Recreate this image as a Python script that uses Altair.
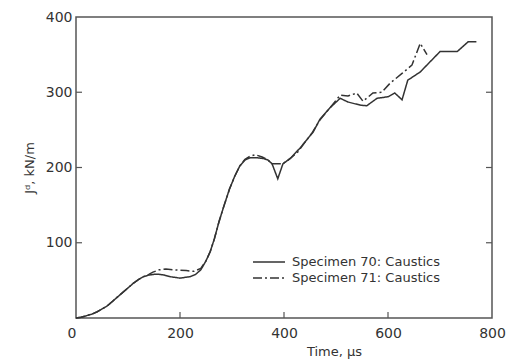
import altair as alt
import pandas as pd

# Specimen 70 (solid)
t70 = [0, 10, 20, 30, 40, 50, 60, 70, 80, 90, 100, 110, 120, 130, 140, 150, 160, 170, 180, 190,
       200, 210, 220, 230, 240, 250, 258, 266, 275, 285, 295, 305, 315, 325, 335, 348, 360, 369,
       377, 388, 398, 412, 431, 444, 456, 469, 488, 508, 523, 546, 559, 579, 600, 613, 627, 638,
       662, 700, 733, 754, 770]
j70 = [0, 1, 3, 5, 8, 12, 16, 22, 28, 34, 40, 46, 51, 55, 57, 58, 58, 57, 55, 54,
       53, 54, 55, 58, 64, 76, 88, 105, 128, 150, 171, 188, 202, 210, 213, 213, 212, 210,
       205, 185, 205, 212, 226, 237, 247, 264, 279, 292, 287, 283, 282, 292, 294, 299, 290, 316,
       327, 354, 354, 367, 367]

# Specimen 71 (dash-dot)
t71 = [0, 10, 20, 30, 40, 50, 60, 70, 80, 90, 100, 110, 120, 130, 140, 148, 160, 173, 190, 212,
       227, 240, 250, 258, 266, 275, 285, 295, 305, 315, 325, 335, 345, 358, 369, 377, 398, 412,
       427, 444, 454, 469, 488, 508, 523, 540, 552, 571, 588, 604, 627, 646, 662, 675]
j71 = [0, 1, 3, 5, 8, 12, 16, 22, 28, 34, 40, 46, 51, 55, 58, 61, 64, 65, 64, 63,
       62, 66, 76, 88, 105, 128, 150, 171, 188, 202, 211, 215, 217, 214, 210, 205, 205, 212,
       221, 237, 246, 263, 279, 296, 295, 299, 288, 299, 300, 312, 325, 336, 365, 350]

series = ["Specimen 70: Caustics", "Specimen 71: Caustics"]
dashes = [[1, 0], [9, 3, 2, 3]]
xticks = [200, 400, 600]
yticks = [100, 200, 300]

W, H = 416, 301
ink = "#333333"
font = "DejaVu Sans"

df = pd.concat([
    pd.DataFrame({"t": t70, "J": j70, "s": series[0], "o": range(len(t70))}),
    pd.DataFrame({"t": t71, "J": j71, "s": series[1], "o": range(len(t71))}),
])

xscale = alt.Scale(domain=[0, 800], nice=False)
yscale = alt.Scale(domain=[0, 400], nice=False)

lines = alt.Chart(df).mark_line(strokeWidth=1.5, color=ink).encode(
    x=alt.X("t:Q", scale=xscale,
            axis=alt.Axis(values=[0, 200, 400, 600, 800], title="Time, μs", ticks=False, domain=False,
                          grid=False, labelPadding=8, labelFontSize=14, labelFont=font, labelColor=ink,
                          labelAlign={"condition": {"test": "datum.value == 0", "value": "right"}, "value": "center"},
                          titleFont=font, titleFontSize=13, titleFontWeight="normal", titleColor=ink,
                          titleX=258, titleY=27)),
    y=alt.Y("J:Q", scale=yscale,
            axis=alt.Axis(values=[100, 200, 300, 400], title="Jᵈ, kN/m", ticks=False, domain=False,
                          grid=False, labelPadding=4, labelFontSize=14, labelFont=font, labelColor=ink,
                          titleFont=font, titleFontSize=13, titleFontWeight="normal", titleColor=ink,
                          titlePadding=9)),
    order="o:Q",
    strokeDash=alt.StrokeDash("s:N", scale=alt.Scale(domain=series, range=dashes), legend=None),
)

xt = alt.Chart(pd.DataFrame({"v": xticks})).mark_rule(color="#555555", strokeWidth=1.2).encode(
    x=alt.X("v:Q", scale=xscale), y=alt.value(H), y2=alt.value(H - 6))
yl = alt.Chart(pd.DataFrame({"v": yticks})).mark_rule(color="#555555", strokeWidth=1.2).encode(
    y=alt.Y("v:Q", scale=yscale), x=alt.value(0), x2=alt.value(6))
yr = alt.Chart(pd.DataFrame({"v": yticks})).mark_rule(color="#555555", strokeWidth=1.2).encode(
    y=alt.Y("v:Q", scale=yscale), x=alt.value(W - 6), x2=alt.value(W))

# manual legend
legend_layers = []
for i, (name, dash) in enumerate(zip(series, dashes)):
    ly = 245 + 16 * i
    ld = pd.DataFrame({"s": [name]})
    legend_layers.append(
        alt.Chart(ld).mark_rule(strokeWidth=1.5, color=ink, strokeDash=dash).encode(
            x=alt.value(177), x2=alt.value(209), y=alt.value(ly)))
    legend_layers.append(
        alt.Chart(ld).mark_text(align="left", baseline="middle", font=font, fontSize=13, color=ink).encode(
            x=alt.value(216), y=alt.value(ly), text="s:N"))

chart = alt.layer(lines, xt, yl, yr, *legend_layers).properties(
    width=W, height=H,
    autosize=alt.AutoSizeParams(type="none"),
    padding={"left": 76, "top": 17, "right": 23, "bottom": 42},
    background="white",
).configure_view(stroke="#555555", strokeWidth=1.5)

chart.save("out.html", embed_options={"renderer": "svg", "actions": False})
